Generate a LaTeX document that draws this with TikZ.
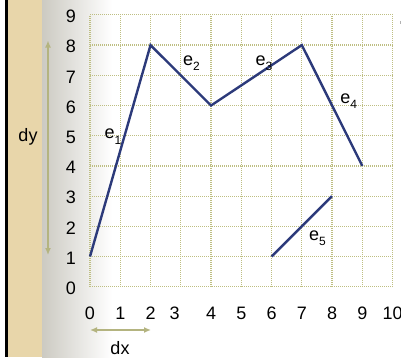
\documentclass[tikz,border=0pt]{standalone}
\usepackage{fontspec}
\setmainfont{Liberation Sans}
\usetikzlibrary{arrows.meta}
\definecolor{parch}{RGB}{232,214,170}
\definecolor{gridc}{RGB}{190,190,130}
\definecolor{arrc}{RGB}{180,180,128}
\definecolor{linec}{RGB}{44,58,122}
\definecolor{shadec}{RGB}{204,202,194}
\tikzset{
  gridline/.style={gridc, line width=1.2pt, dash pattern=on 1pt off 1pt},
  edge/.style={linec, line width=2.4pt, line join=miter},
  lab/.style={font=\fontsize{18}{18}\selectfont, inner sep=0pt},
  dimarrow/.style={arrc, line width=1.3pt, {Latex[length=7pt,width=6pt]}-{Latex[length=7pt,width=6pt]}}
}
\newcommand{\esub}[1]{e\raisebox{-0.3em}{\fontsize{12}{12}\selectfont #1}}
\begin{document}
\begin{tikzpicture}[x=1pt,y=1pt]
\useasboundingbox (0,0) rectangle (401,357);
\fill[white] (0,0) rectangle (401,357);
\shade[left color=shadec, right color=white] (42,0) rectangle (112,357);
\fill[parch] (8,0) rectangle (42,357);
\fill[black] (5,0) rectangle (8,357);
\begin{scope}[shift={(90,70.3)}, x=30.26pt, y=30.2pt]
  \foreach \i in {0,...,10} \draw[gridline] (\i,0) -- (\i,9);
  \foreach \j in {0,...,9} \draw[gridline] (0,\j) -- (10,\j);
  \foreach \j in {0,...,9} \node[lab] (y\j) at (-0.63,\j-0.05) {\j};
  \foreach \i/\xx in {0/0,1/1,2/2,3/2.8,4/4,5/5,6/6,7/7,8/8,9/9,10/10} \node[lab] (x\i) at (\xx,-0.87) {\i};
  \coordinate (a) at (0,1);
  \coordinate (b) at (2,8);
  \coordinate (c) at (4,6);
  \coordinate (d) at (7,8);
  \coordinate (e) at (9,4);
  \coordinate (f) at (6,1);
  \coordinate (g) at (8,3);
  \draw[edge] (a) -- (b) -- (c) -- (d) -- (e);
  \draw[edge] (f) -- (g);
  \node[lab] (e1) at (0.76,4.97) {\esub{1}};
  \node[lab] (e2) at (3.35,7.4) {\esub{2}};
  \node[lab] (e3) at (5.75,7.4) {\esub{3}};
  \node[lab] (e4) at (8.55,6.15) {\esub{4}};
  \node[lab] (e5) at (7.52,1.6) {\esub{5}};
\end{scope}
\coordinate (dyt) at (48,316.5);
\coordinate (dyb) at (48,102);
\draw[dimarrow] (dyt) -- (dyb);
\node[lab] (dy) at (28,220) {dy};
\coordinate (dxl) at (90,27);
\coordinate (dxr) at (151,27);
\draw[dimarrow] (dxl) -- (dxr);
\node[lab] (dx) at (120,9) {dx};
\draw[gray!60, line width=0.8pt] (400,336) -- (400,333);
\end{tikzpicture}
\end{document}
